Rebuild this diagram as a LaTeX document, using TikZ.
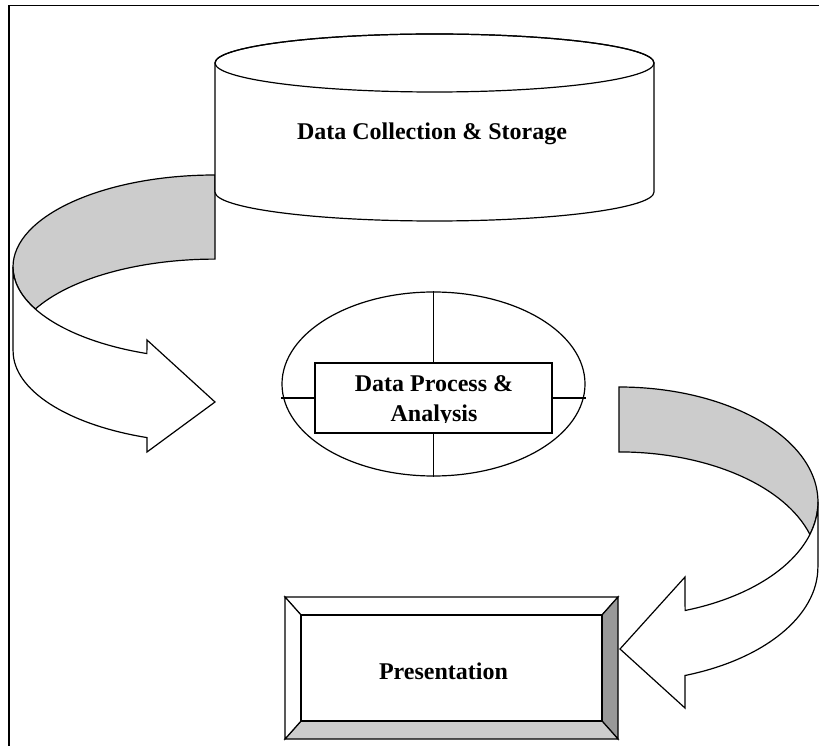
\documentclass[tikz,border=0pt]{standalone}
\usepackage{fontspec}
\setmainfont{Liberation Serif}
\usetikzlibrary{shapes.geometric}
\definecolor{bandgray}{HTML}{CCCCCC}
\definecolor{darkbevel}{HTML}{999999}
\begin{document}
\begin{tikzpicture}[x=1pt,y=1pt,line width=1.2pt,line join=miter,
  lbl/.style={font=\bfseries\fontsize{24}{28}\selectfont,inner sep=0pt,anchor=base},
  shapeline/.style={draw=black,line width=1.2pt}]
\useasboundingbox (0,0) rectangle (819,745);
% frame (only top and left edges visible)
\draw[line width=1.4pt] (9,-10) -- (9,739.5) -- (830,739.5);

% left curved arrow: back (grey) band
\filldraw[shapeline,fill=bandgray] (215,570)
  arc[start angle=90,end angle=207.2,x radius=202,y radius=92]
  arc[start angle=152.8,end angle=90,x radius=202,y radius=92] -- cycle;
% left curved arrow: front (white) part with head
\filldraw[shapeline,fill=white] (35.3,436)
  arc[start angle=207.2,end angle=250.3,x radius=202,y radius=92]
  -- (147,405) -- (215,343) -- (147,293) -- (147,307.4)
  arc[start angle=250.3,end angle=180,x radius=202,y radius=92]
  -- (13,478)
  arc[start angle=180,end angle=207.2,x radius=202,y radius=92] -- cycle;

% right curved arrow: back (grey) band
\filldraw[shapeline,fill=bandgray] (619,358)
  arc[start angle=90,end angle=-16.4,x radius=199,y radius=115]
  arc[start angle=16.4,end angle=90,x radius=199,y radius=115] -- cycle;
% right curved arrow: front (white) part with head
\filldraw[shapeline,fill=white] (809.9,210.5)
  arc[start angle=-16.4,end angle=-70.6,x radius=199,y radius=115]
  -- (685,168) -- (620,96) -- (685,37) -- (685,69.5)
  arc[start angle=-70.6,end angle=0,x radius=199,y radius=115]
  -- (818,243)
  arc[start angle=0,end angle=-16.4,x radius=199,y radius=115] -- cycle;

% cylinder
\filldraw[shapeline,fill=white] (215,682) -- (215,553)
  arc[start angle=180,end angle=360,x radius=219.5,y radius=29]
  -- (654,682)
  arc[start angle=0,end angle=180,x radius=219.5,y radius=29] -- cycle;
\draw[shapeline] (434.5,682) ellipse[x radius=219.5,y radius=29];
\node[lbl] (store) at (432,605) {Data Collection \& Storage};

% process ellipse with cross and inner box
\node[shapeline,ellipse,fill=white,minimum width=303,minimum height=184,inner sep=0pt] (ell) at (433.5,361) {};
\node[shapeline,rectangle,fill=white,minimum width=237,minimum height=70,inner sep=0pt] (proc) at (433.5,347) {};
\draw[shapeline] (ell.north) -- (proc.north);
\draw[shapeline] (proc.south) -- (ell.south);
\draw[shapeline] (proc.west) -- ++(-33.5,0) coordinate (lw);
\draw[shapeline] (proc.east) -- ++(33.5,0) coordinate (le);
\begin{scope}
  \clip (315,322) rectangle (552,381);
  \node[lbl] (proct1) at (434,353) {Data Process \&};
  \node[lbl] (proct2) at (434,323) {Analysis};
\end{scope}

% bevelled presentation box
\filldraw[shapeline,fill=white] (285,148) -- (618,148) -- (602,130) -- (301,130) -- cycle;
\filldraw[shapeline,fill=darkbevel] (618,148) -- (618,6) -- (602,24) -- (602,130) -- cycle;
\filldraw[shapeline,fill=bandgray] (618,6) -- (285,6) -- (301,24) -- (602,24) -- cycle;
\filldraw[shapeline,fill=white] (285,6) -- (285,148) -- (301,130) -- (301,24) -- cycle;
\node[shapeline,rectangle,fill=white,minimum width=301,minimum height=106,inner sep=0pt] (pres) at (451.5,77) {};
\node[lbl] (prest) at (443.5,66) {Presentation};
\end{tikzpicture}
\end{document}
